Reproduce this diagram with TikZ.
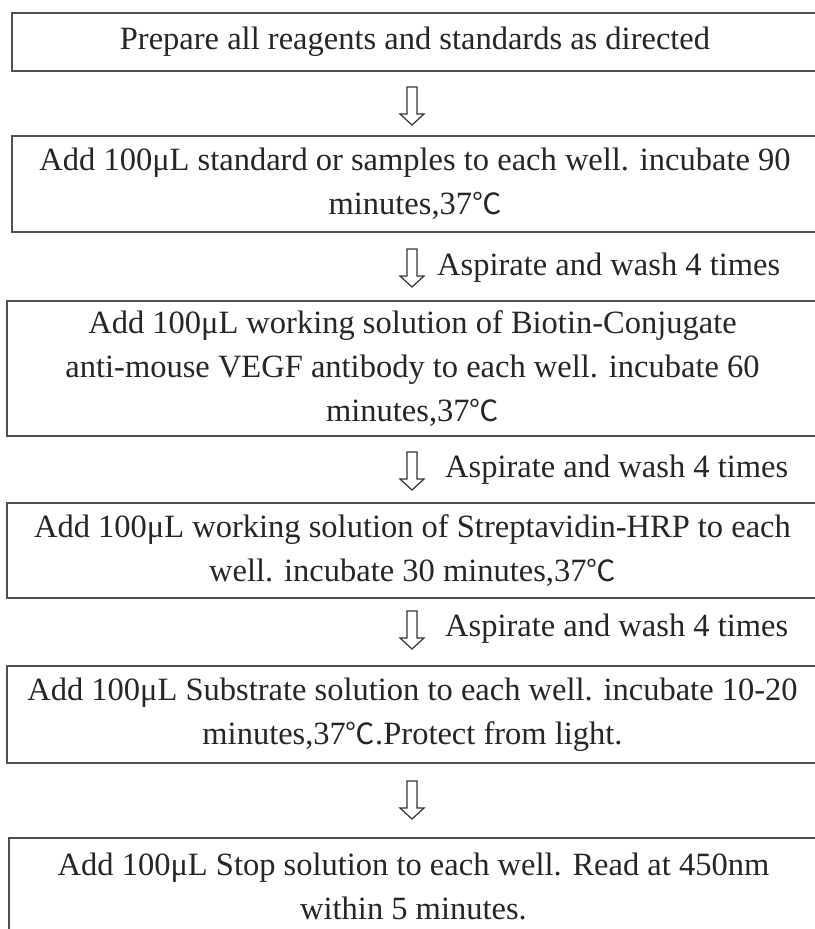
\documentclass[tikz,border=0pt]{standalone}
\usepackage{fontspec}
\setmainfont{Liberation Serif}
\newfontfamily\cjk{Noto Sans CJK SC}[Scale=0.9]
\usetikzlibrary{calc}
\definecolor{boxgray}{HTML}{505050}
\definecolor{txt}{HTML}{262626}
\definecolor{arrowgray}{HTML}{333333}
\newcommand{\degC}{{\cjk ℃}}
\tikzset{
  box/.style={draw=boxgray, line width=1.8pt, rectangle, inner sep=0pt, align=center, text=txt, font=\fontsize{32.5}{44}\selectfont},
  lbl/.style={anchor=west, inner sep=0pt, text=txt, font=\fontsize{32.5}{44}\selectfont},
  hollowdown/.pic={\draw[line width=1.2pt, draw=arrowgray, line join=miter] (-5,0) -- (5,0) -- (5,27) -- (12,27) -- (0,38) -- (-12,27) -- (-5,27) -- cycle;}
}
\begin{document}
\begin{tikzpicture}[x=1pt,y=-1pt]
\useasboundingbox (0,0) rectangle (814,929);
\fill[white] (0,0) rectangle (814,929);

\node[box, minimum width=806pt, minimum height=58pt] (b1) at (415,42) {Prepare all reagents and standards as directed};
\node[box, minimum width=806pt, minimum height=96pt] (b2) at (415,184) {Add 100μL standard or samples to each well. incubate 90\\minutes,37\degC};
\node[box, minimum width=811pt, minimum height=135pt] (b3) at (412.5,368.5) {Add 100μL working solution of Biotin-Conjugate\\anti-mouse VEGF antibody to each well. incubate 60\\minutes,37\degC};
\node[box, minimum width=811pt, minimum height=95pt] (b4) at (412.5,550.5) {Add 100μL working solution of Streptavidin-HRP to each\\well. incubate 30 minutes,37\degC};
\node[box, minimum width=811pt, minimum height=97pt] (b5) at (412.5,714.5) {Add 100μL Substrate solution to each well. incubate 10-20\\minutes,37\degC.Protect from light.};
\node[box, minimum width=809pt, minimum height=97pt] (b6) at (413.5,886.5) {Add 100μL Stop solution to each well. Read at 450nm\\within 5 minutes.};

\coordinate (a1) at (412,87);
\coordinate (a2) at (412,249);
\coordinate (a3) at (412,452);
\coordinate (a4) at (412,611);
\coordinate (a5) at (412,781);
\pic at (a1) {hollowdown};
\pic at (a2) {hollowdown};
\pic at (a3) {hollowdown};
\pic at (a4) {hollowdown};
\pic at (a5) {hollowdown};

\node[lbl] (l2) at (437,268) {Aspirate and wash 4 times};
\node[lbl] (l3) at (445,470) {Aspirate and wash 4 times};
\node[lbl] (l4) at (445,629) {Aspirate and wash 4 times};
\end{tikzpicture}
\end{document}
